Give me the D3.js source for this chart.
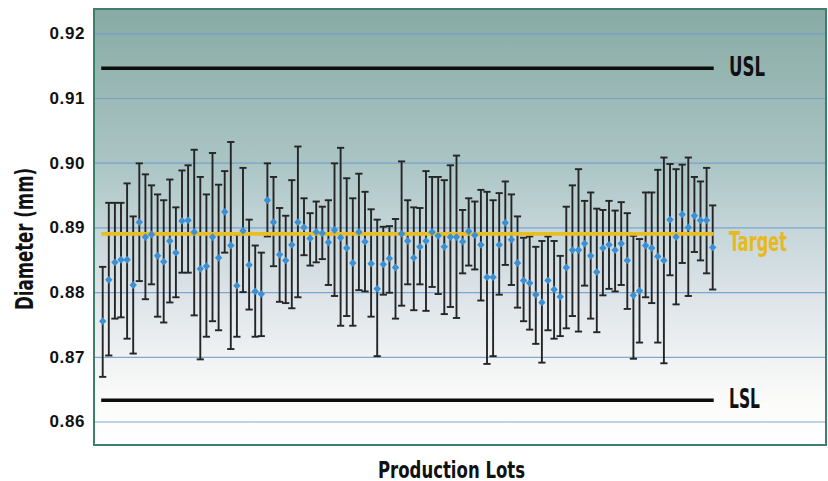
<!DOCTYPE html>
<html>
<head>
<meta charset="utf-8">
<script src="https://cdn.jsdelivr.net/npm/d3@7"></script>
<style>
  body { margin: 0; background: #fff; }
  text { font-family: "Liberation Sans Narrow", "DejaVu Sans Condensed", "Liberation Sans", sans-serif; font-weight: bold; }
</style>
</head>
<body>
<script>
// lot means, upper and lower whisker ends (mm), lots 1..101
var means = [0.8755,0.8819,0.8846,0.8850,0.8850,0.8811,0.8908,0.8885,0.8889,0.8856,
	0.8847,0.8879,0.8861,0.8910,0.8911,0.8893,0.8836,0.8840,0.8885,0.8853,
	0.8924,0.8872,0.8810,0.8895,0.8842,0.8801,0.8797,0.8942,0.8908,0.8858,
	0.8849,0.8873,0.8908,0.8900,0.8883,0.8893,0.8891,0.8877,0.8896,0.8884,
	0.8868,0.8845,0.8893,0.8878,0.8844,0.8805,0.8843,0.8852,0.8838,0.8890,
	0.8879,0.8853,0.8870,0.8879,0.8893,0.8887,0.8870,0.8885,0.8885,0.8878,
	0.8894,0.8888,0.8873,0.8823,0.8823,0.8873,0.8907,0.8881,0.8845,0.8818,
	0.8814,0.8796,0.8784,0.8818,0.8804,0.8793,0.8838,0.8865,0.8865,0.8875,
	0.8856,0.8831,0.8868,0.8873,0.8865,0.8875,0.8849,0.8795,0.8802,0.8872,
	0.8868,0.8855,0.8849,0.8912,0.8885,0.8920,0.8900,0.8918,0.8911,0.8911,
	0.8869];
var highs = [0.8839,0.8938,0.8938,0.8938,0.8968,0.8917,0.8999,0.8982,0.8965,0.8951,
	0.8942,0.8974,0.8931,0.8988,0.8996,0.9020,0.8978,0.8951,0.9015,0.8966,
	0.8987,0.9032,0.8889,0.8992,0.8912,0.8872,0.8861,0.8999,0.8978,0.8930,
	0.8918,0.8973,0.9025,0.8945,0.8922,0.8940,0.8932,0.8942,0.8999,0.9023,
	0.8976,0.8945,0.8983,0.8955,0.8928,0.8912,0.8901,0.8902,0.8913,0.9002,
	0.8942,0.8931,0.8930,0.8987,0.8978,0.8978,0.8973,0.8996,0.9011,0.8927,
	0.8945,0.8940,0.8958,0.8955,0.8942,0.8953,0.8971,0.8951,0.8917,0.8884,
	0.8886,0.8870,0.8879,0.8886,0.8879,0.8856,0.8932,0.8965,0.8990,0.8941,
	0.8954,0.8929,0.8927,0.8941,0.8926,0.8939,0.8922,0.8887,0.8882,0.8954,
	0.8954,0.8989,0.9008,0.8998,0.8990,0.8997,0.9008,0.8978,0.8971,0.8992,
	0.8934];
var lows = [0.8669,0.8702,0.8759,0.8761,0.8728,0.8705,0.8817,0.8789,0.8812,0.8762,
	0.8753,0.8784,0.8792,0.8830,0.8830,0.8764,0.8696,0.8731,0.8755,0.8741,
	0.8861,0.8712,0.8731,0.8800,0.8773,0.8731,0.8732,0.8886,0.8840,0.8785,
	0.8783,0.8775,0.8792,0.8857,0.8841,0.8846,0.8851,0.8811,0.8794,0.8748,
	0.8763,0.8748,0.8803,0.8801,0.8762,0.8701,0.8796,0.8799,0.8759,0.8779,
	0.8812,0.8772,0.8812,0.8771,0.8808,0.8797,0.8766,0.8777,0.8760,0.8829,
	0.8841,0.8835,0.8787,0.8689,0.8701,0.8796,0.8842,0.8811,0.8776,0.8755,
	0.8742,0.8720,0.8691,0.8741,0.8728,0.8732,0.8744,0.8763,0.8739,0.8810,
	0.8759,0.8738,0.8795,0.8805,0.8801,0.8811,0.8774,0.8697,0.8722,0.8792,
	0.8783,0.8722,0.8690,0.8826,0.8781,0.8845,0.8794,0.8862,0.8849,0.8829,
	0.8804];
var limits = [
	{name: "USL", value: 0.9146},
	{name: "LSL", value: 0.8633}
];
var target = 0.889;
var yTicks = [0.86, 0.87, 0.88, 0.89, 0.90, 0.91, 0.92];

var lots = means.map(function(d, i){ return {lot: i + 1, mean: d, hi: highs[i], lo: lows[i]}; });

var W = 828, H = 481;
var plot = {left: 94, top: 9, right: 826, bottom: 445};

var svg = d3.select("body").append("svg")
	.attr("width", W)
	.attr("height", H);

var x = d3.scaleLinear().domain([1, lots.length]).range([102.7, 712.7]);
var y = d3.scaleLinear().domain([0.86, 0.92]).range([421.5, 33.3]);

// background gradient
var grad = svg.append("defs").append("linearGradient")
	.attr("id", "bg").attr("x1", 0).attr("y1", 0).attr("x2", 0).attr("y2", 1);
[[0, "#87aba4"], [0.35, "#aac4c4"], [0.5, "#c4d5d8"], [0.65, "#dce3e8"],
 [0.8, "#f0f2f3"], [0.9, "#fbfbfa"], [1, "#ffffff"]].forEach(function(s){
	grad.append("stop").attr("offset", s[0]).attr("stop-color", s[1]);
});

svg.append("rect")
	.attr("x", plot.left).attr("y", plot.top)
	.attr("width", plot.right - plot.left).attr("height", plot.bottom - plot.top)
	.attr("fill", "url(#bg)");

// gridlines + tick labels
var yAxis = d3.axisLeft(y)
	.tickValues(yTicks)
	.tickFormat(d3.format(".2f"))
	.tickSizeInner(plot.right - plot.left - 1)
	.tickSizeOuter(0)
	.tickPadding(9);

var ag = svg.append("g")
	.attr("transform", "translate(" + (plot.right - 1) + ",0)")
	.call(yAxis);
ag.select(".domain").remove();
ag.selectAll("line").attr("stroke", "#6f9bc8").attr("stroke-width", 1.2).attr("opacity", 0.85);
ag.selectAll("text")
	.attr("fill", "#111")
	.style("font-family", "'Liberation Sans', Arial, sans-serif")
	.style("font-size", "17px")
	.style("letter-spacing", "0.6px");

// spec limits
var x0 = x(1) - 1.5, x1 = x(lots.length) + 1;
svg.append("g").selectAll("line")
	.data(limits)
	.enter()
	.append("line")
	.attr("x1", x0).attr("x2", x1)
	.attr("y1", function(d){ return y(d.value); })
	.attr("y2", function(d){ return y(d.value); })
	.attr("stroke", "#0d0d0d")
	.attr("stroke-width", 3.5);

svg.append("g").selectAll("text")
	.data(limits)
	.enter()
	.append("text")
	.attr("x", 729)
	.attr("y", function(d){ return y(d.value) + 8; })
	.attr("fill", "#111")
	.style("font-size", "27px")
	.attr("textLength", function(d){ return d.name == "USL" ? 36 : 31; })
	.attr("lengthAdjust", "spacingAndGlyphs")
	.text(function(d){ return d.name; });

// whiskers
var cap = 3.6;
var wg = svg.append("g").attr("stroke", "#252525").attr("stroke-width", 1.9);
var bars = wg.selectAll("g")
	.data(lots)
	.enter()
	.append("g");
bars.append("line")
	.attr("x1", function(d){ return x(d.lot); })
	.attr("x2", function(d){ return x(d.lot); })
	.attr("y1", function(d){ return y(d.hi); })
	.attr("y2", function(d){ return y(d.lo); });
bars.append("line")
	.attr("x1", function(d){ return x(d.lot) - cap; })
	.attr("x2", function(d){ return x(d.lot) + cap; })
	.attr("y1", function(d){ return y(d.hi); })
	.attr("y2", function(d){ return y(d.hi); });
bars.append("line")
	.attr("x1", function(d){ return x(d.lot) - cap; })
	.attr("x2", function(d){ return x(d.lot) + cap; })
	.attr("y1", function(d){ return y(d.lo); })
	.attr("y2", function(d){ return y(d.lo); });

// target
svg.append("line")
	.attr("x1", x0).attr("x2", x1)
	.attr("y1", y(target)).attr("y2", y(target))
	.attr("stroke", "#e9bd24")
	.attr("stroke-width", 3.6);
svg.append("text")
	.attr("x", 729)
	.attr("y", y(target) + 17)
	.attr("fill", "#e8b91c")
	.style("font-size", "27px")
	.attr("textLength", 58)
	.attr("lengthAdjust", "spacingAndGlyphs")
	.text("Target");

// lot means
svg.append("g").selectAll("path")
	.data(lots)
	.enter()
	.append("path")
	.attr("d", "M0,-3.9L3.7,0L0,3.9L-3.7,0Z")
	.attr("transform", function(d){ return "translate(" + x(d.lot) + "," + y(d.mean) + ")"; })
	.attr("fill", "#3b8fd2");

// frame
svg.append("rect")
	.attr("x", plot.left).attr("y", plot.top)
	.attr("width", plot.right - plot.left).attr("height", plot.bottom - plot.top)
	.attr("fill", "none")
	.attr("stroke", "#3f7d6c")
	.attr("stroke-width", 2);

// axis titles
svg.append("text")
	.attr("transform", "translate(33,239) rotate(-90)")
	.attr("text-anchor", "middle")
	.attr("fill", "#111")
	.style("font-size", "25px")
	.attr("textLength", 142)
	.attr("lengthAdjust", "spacingAndGlyphs")
	.text("Diameter (mm)");

svg.append("text")
	.attr("x", 451.5)
	.attr("y", 477.5)
	.attr("text-anchor", "middle")
	.attr("fill", "#111")
	.style("font-size", "23px")
	.attr("textLength", 147)
	.attr("lengthAdjust", "spacingAndGlyphs")
	.text("Production Lots");
</script>
</body>
</html>
